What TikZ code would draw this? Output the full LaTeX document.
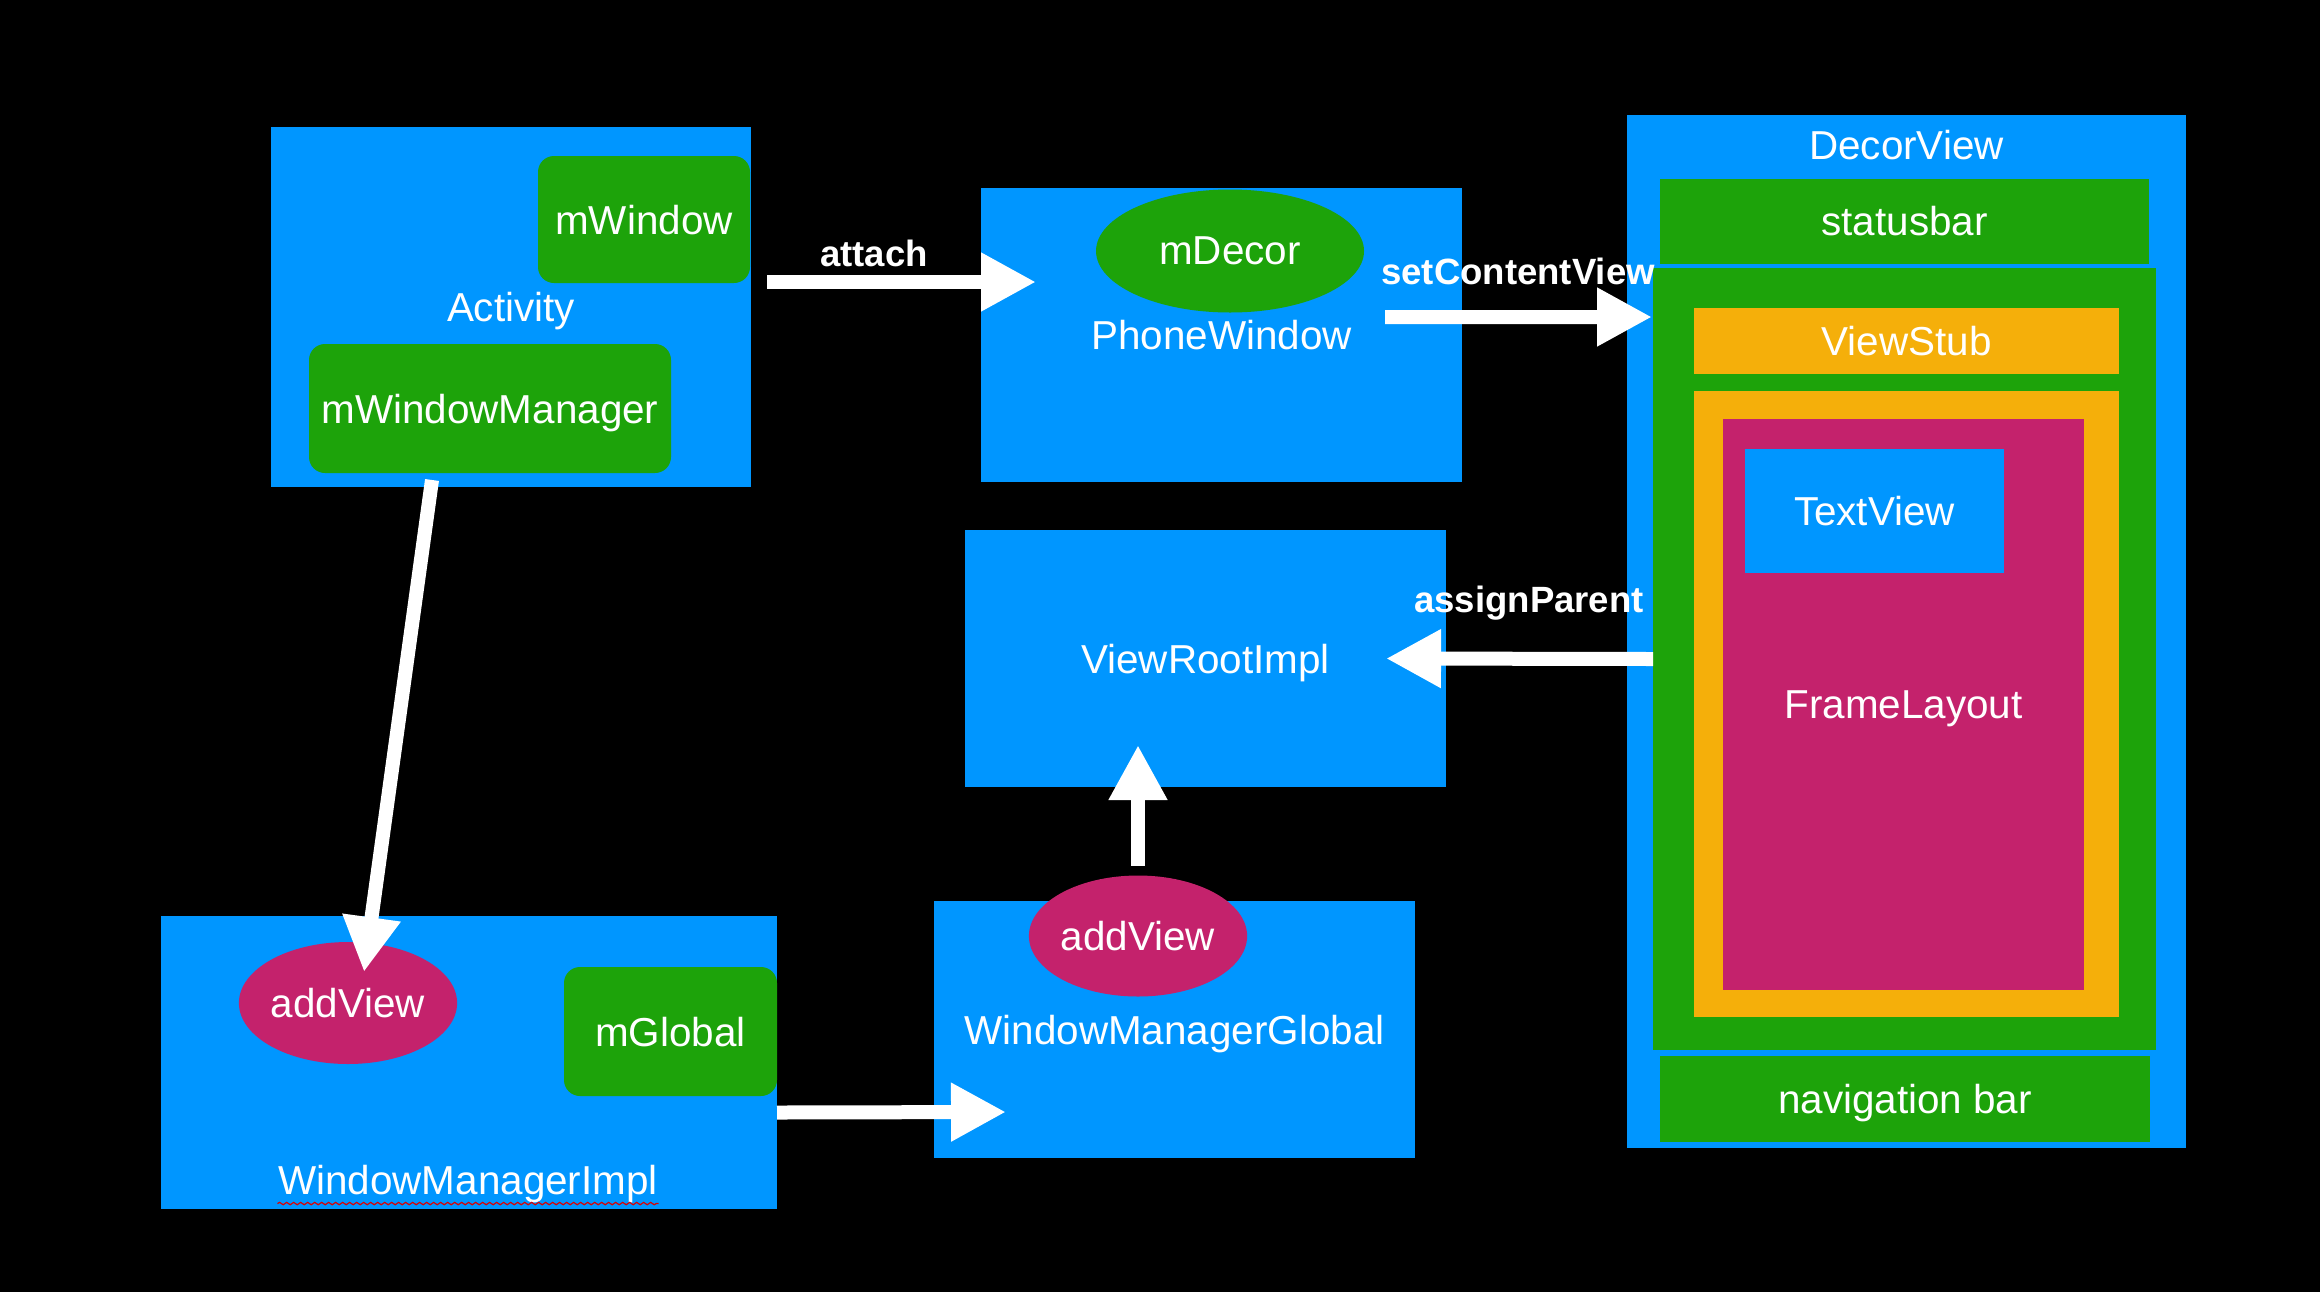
\documentclass[tikz,border=0pt]{standalone}
\usepackage{fontspec}
\setmainfont{Liberation Sans}
\usetikzlibrary{arrows.meta, positioning, shapes.geometric, calc, decorations.pathmorphing}
\definecolor{panelblue}{RGB}{0,150,255}
\definecolor{fieldgreen}{RGB}{29,163,10}
\definecolor{stuborange}{RGB}{245,175,10}
\definecolor{callpink}{RGB}{196,34,108}
\tikzset{
  panel/.style={rectangle,fill=panelblue,inner sep=0pt,outer sep=0pt,text depth=0pt,text=white,font=\fontsize{11.5}{13}\selectfont},
  field/.style={rectangle,fill=fieldgreen,rounded corners=1.6mm,inner sep=0pt,outer sep=0pt,text depth=0pt,text=white,font=\fontsize{11.5}{13}\selectfont},
  slab/.style={rectangle,inner sep=0pt,outer sep=0pt,text depth=0pt,text=white,font=\fontsize{11.5}{13}\selectfont},
  call/.style={ellipse,fill=callpink,inner sep=0pt,outer sep=0pt,text depth=0pt,text=white,font=\fontsize{11.5}{13}\selectfont},
  lbl/.style={inner sep=0pt,text=white,font=\fontsize{11.5}{13}\selectfont},
  verb/.style={inner sep=0pt,text=white,font=\fontsize{10.4}{12}\selectfont\bfseries},
  flow/.style={draw=white,line width=1.4mm,-{Triangle[length=5.5mm,width=5.5mm]}},
  spell/.style={draw=red!85!black,line width=0.12mm,decorate,decoration={snake,amplitude=0.12mm,segment length=0.7mm}}
}

\begin{document}
\begin{tikzpicture}[x=0.1mm, y=-0.1mm]
\fill[black] (0,0) rectangle (2320,1292);
\useasboundingbox (0,0) rectangle (2320,1292);

% Activity and its members
\node[panel, minimum width=48mm, minimum height=36mm] (act) at (511,307) {Activity};
\node[field, minimum width=21.2mm, minimum height=12.7mm] (mwin) at (644,219.5) {mWindow};
\node[field, minimum width=36.2mm, minimum height=12.9mm] (mwm) at (490,408.5) {mWindowManager};

% PhoneWindow
\node[panel, minimum width=48.1mm, minimum height=29.4mm] (pw) at (1221.5,335) {PhoneWindow};
\node[call, fill=fieldgreen, minimum width=26.8mm, minimum height=12.3mm] (decor) at (1230,251) {mDecor};

% ViewRootImpl / WindowManagerGlobal
\node[panel, minimum width=48.1mm, minimum height=25.7mm] (vri) at (1205.5,658.5) {ViewRootImpl};
\node[panel, minimum width=48.1mm, minimum height=25.7mm] (wmg) at (1174.5,1029.5) {WindowManagerGlobal};
\node[call, minimum width=21.4mm, minimum height=12.1mm] (av2) at (1138,936) {addView};

% WindowManagerImpl
\node[panel, minimum width=61.6mm, minimum height=29.3mm] (wmi) at (469,1062.5) {};
\node[lbl] (wmitext) at (468,1184) {WindowManagerImpl};
\node[call, minimum width=21.4mm, minimum height=12.2mm] (av1) at (348,1003) {addView};
\node[field, minimum width=21.3mm, minimum height=12.9mm] (mglob) at (670.5,1031.5) {mGlobal};
\draw[spell] (wmitext.south west) -- (wmitext.south east);

% DecorView tree
\node[slab, fill=panelblue, minimum width=55.9mm, minimum height=103.3mm] (dv) at (1906.5,631.5) {};
\node[lbl] (dvtext) at ([shift={(0,30)}]dv.north) {DecorView};
\node[slab, fill=fieldgreen, minimum width=48.9mm, minimum height=8.5mm] (sbar) at (1904.5,221) {statusbar};
\node[slab, fill=fieldgreen, minimum width=50.3mm, minimum height=78.2mm] (content) at (1904.5,659) {};
\node[slab, fill=stuborange, minimum width=42.5mm, minimum height=6.6mm] (stub) at (1906.5,341) {ViewStub};
\node[slab, fill=stuborange, minimum width=42.5mm, minimum height=62.6mm] (frame) at (1906.5,704) {};
\node[slab, fill=callpink, minimum width=36.1mm, minimum height=57.1mm] (fl) at (1903.5,704.5) {FrameLayout};
\node[slab, fill=panelblue, minimum width=25.9mm, minimum height=12.4mm] (tv) at (1874.5,511) {TextView};
\node[slab, fill=fieldgreen, minimum width=49mm, minimum height=8.6mm] (nav) at (1905,1099) {navigation bar};

% calls
\draw[flow] ([shift={(16,-25)}]act.east) -- ([shift={(55,-53)}]pw.west);
\draw[flow] ([shift={(-77,-18)}]pw.east) -- ([shift={(-1,49)}]content.north west);
\draw[flow] (content.west) -- ([shift={(-60,0)}]vri.east);
\draw[flow] ([shift={(0,-10)}]av2.north) -- ($(av2.north |- vri.south)+(0,-42)$);
\draw[flow] ([shift={(-58,7)}]mwm.south) -- ([shift={(16,30)}]av1.north);
\draw[flow] ([shift={(0,50)}]wmi.east) -- ([shift={(72,82.5)}]wmg.west);

\node[verb] (attachlbl) at (874,253) {attach};
\node[verb] (setlbl) at (1518,271) {setContentView};
\node[verb] (assignlbl) at (1529,603) {assignParent};
\end{tikzpicture}
\end{document}
